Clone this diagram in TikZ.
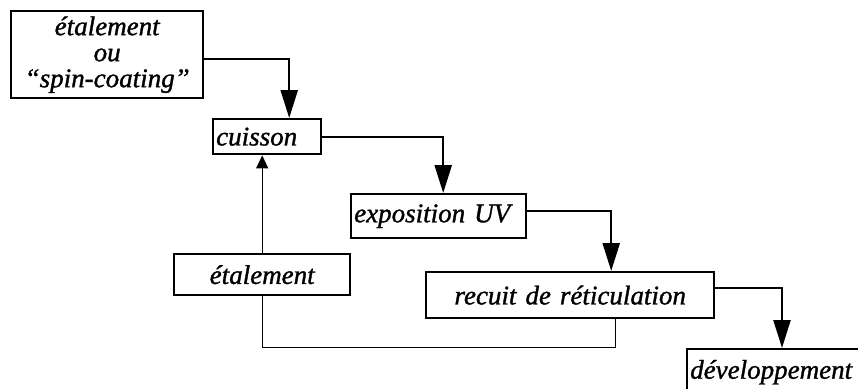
\documentclass[tikz,border=0pt]{standalone}
\usepackage{fontspec}
\setmainfont{Liberation Serif}
\newfontfamily\etapefont[FakeBold=1.2,ItalicFeatures={FakeBold=1.2}]{Liberation Serif}
\usetikzlibrary{arrows.meta,positioning}

\begin{document}
\begin{tikzpicture}[x=1pt,y=-1pt,
    etape/.style={draw, line width=2.4pt, anchor=north west, inner xsep=3pt, inner ysep=0pt,
      font=\etapefont\fontsize{27}{26}\selectfont\itshape},
    flux/.style={line width=2.4pt, -{Triangle[length=28pt,width=17pt]}},
    retour/.style={line width=1.2pt},
  ]
    \useasboundingbox (0,0) rectangle (858,388);
    \clip (0,0) rectangle (858,388);

    % the process steps
    \node[etape, text width=186pt, minimum height=87pt, align=center] (spin) at (10,10)
        {étalement\\ou\\“spin-coating”};
    \node[etape, text width=102pt, minimum height=35pt, align=left] (cuisson) at (212,118) {cuisson};
    \node[etape, text width=169pt, minimum height=44pt, align=left] (expo) at (350,193) {exposition UV};
    \node[etape, text width=170pt, minimum height=41pt, align=center] (etal) at (173,253) {étalement};
    \node[etape, text width=282pt, minimum height=46pt, align=center] (recuit) at (425,271) {recuit de réticulation};
    \node[etape, text width=240pt, minimum height=46pt, align=left] (dev) at (686,348) {développement};

    % main sequence
    \draw[flux] ([yshift=-4pt]spin.east) -| ([xshift=22pt]cuisson.north);
    \draw[flux] (cuisson.east) -| ([xshift=4.5pt]expo.north);
    \draw[flux] ([yshift=5pt]expo.east) -| ([xshift=41pt]recuit.north);
    \draw[flux] ([yshift=7pt]recuit.east) -| ([xshift=96pt]dev.north west);

    % second coat loop
    \draw[retour] ([xshift=45pt]recuit.south) -- ++(0,28) -| (etal.south);
    \draw[retour, -{Triangle[length=13pt,width=12pt]}] (etal.north) -- (etal.north |- cuisson.south);
\end{tikzpicture}
\end{document}
